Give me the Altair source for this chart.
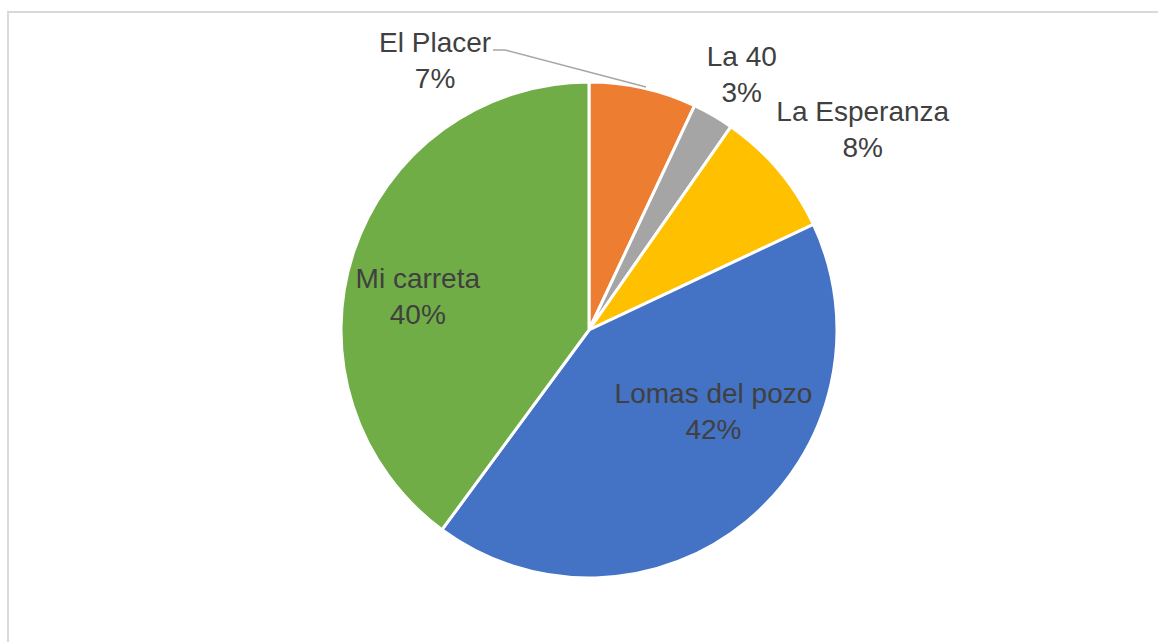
import altair as alt
import pandas as pd

categories = ["El Placer", "La 40", "La Esperanza", "Lomas del pozo", "Mi carreta"]
values = [7.0, 2.7, 8.3, 42.1, 39.9]
pct_labels = ["7%", "3%", "8%", "42%", "40%"]
colors = ["#ED7D31", "#A5A5A5", "#FFC000", "#4472C4", "#70AD47"]

df = pd.DataFrame({
    "cat": categories,
    "value": values,
    "order": list(range(len(categories))),
    "label": [f"{c}\n{p}" for c, p in zip(categories, pct_labels)],
})

CX, CY, R = 589, 330, 248
FONT = "Liberation Sans, Arial, sans-serif"
theta_scale = alt.Scale(domain=[0, 100])

base = alt.Chart(df)

arcs = base.mark_arc(radius=R, stroke="white", strokeWidth=3).encode(
    theta=alt.Theta("value:Q", stack=True, scale=theta_scale),
    order=alt.Order("order:Q"),
    color=alt.Color("cat:N", scale=alt.Scale(domain=categories, range=colors), legend=None),
    x=alt.value(CX),
    y=alt.value(CY),
)

label_base = base.transform_window(
    cum="sum(value)", sort=[alt.SortField("order")], frame=[None, 0]
).transform_calculate(mid="datum.cum - datum.value / 2")

# (category, radius, dx, dy)
placements = [
    ("El Placer", 280, -215, -5),
    ("La 40", 305, 0, 0),
    ("La Esperanza", 345, 10, 13),
    ("Lomas del pozo", 144, 33, -38),
    ("Mi carreta", 176, -4, 13),
]

layers = [arcs]
for cat, r, dx, dy in placements:
    layers.append(
        label_base.transform_filter(alt.datum.cat == cat).mark_text(
            radius=r, dx=dx, dy=dy, font=FONT, fontSize=28, color="#404040",
            align="center", baseline="alphabetic", lineBreak="\n", lineHeight=36,
        ).encode(
            theta=alt.Theta("mid:Q", scale=theta_scale),
            text="label:N",
            x=alt.value(CX),
            y=alt.value(CY),
        )
    )

one = alt.Data(values=[{}])
leader1 = alt.Chart(one).mark_rule(color="#A6A6A6", strokeWidth=1.5).encode(
    x=alt.value(493), x2=alt.value(505), y=alt.value(50), y2=alt.value(50))
leader2 = alt.Chart(one).mark_rule(color="#A6A6A6", strokeWidth=1.5).encode(
    x=alt.value(505), x2=alt.value(646), y=alt.value(50), y2=alt.value(87))
border = alt.Chart(one).mark_rect(fillOpacity=0, stroke="#D9D9D9", strokeWidth=2).encode(
    x=alt.value(8), x2=alt.value(1175), y=alt.value(12), y2=alt.value(660))

chart = alt.layer(border, *layers, leader1, leader2).properties(
    width=1158, height=642, padding=0, autosize=alt.AutoSizeParams(type="none"),
    background="white",
).configure_view(stroke=None)

chart.save("out.html", embed_options={"renderer": "svg", "actions": False})
